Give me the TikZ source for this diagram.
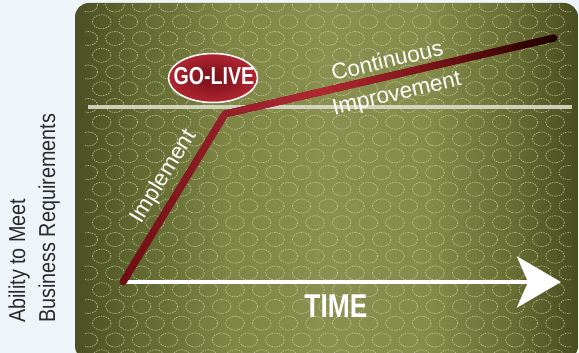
\documentclass[tikz,border=0pt]{standalone}
\usepackage{fontspec}
\setmainfont{Liberation Sans}
\newfontfamily\condfont[FakeStretch=0.86]{Liberation Sans}
\newfontfamily\heavycond[FakeStretch=0.8]{Liberation Sans}
\usetikzlibrary{shapes.geometric,arrows.meta,calc}

% palette
\definecolor{bgcol}{HTML}{EEF5F8}
\definecolor{olA}{HTML}{4A5022}
\definecolor{olB}{HTML}{626931}
\definecolor{olC}{HTML}{7E8545}
\definecolor{olD}{HTML}{8A904F}
\definecolor{olE}{HTML}{858B4A}
\definecolor{olF}{HTML}{6A7035}
\definecolor{olG}{HTML}{484D1F}
\definecolor{dotcol}{HTML}{CFD2A6}
\definecolor{guidecol}{HTML}{DADCC8}
\definecolor{redA}{HTML}{6E0F14}
\definecolor{redB}{HTML}{96202A}
\definecolor{redC}{HTML}{B22832}
\definecolor{redD}{HTML}{7A141A}
\definecolor{redE}{HTML}{440707}
\definecolor{redF}{HTML}{1E0000}
\definecolor{pillin}{HTML}{760E16}
\definecolor{pillout}{HTML}{B02632}
\definecolor{labelcol}{HTML}{2A2A2A}

% olive panel: colours run across the middle 50bp of the shading
\pgfdeclarehorizontalshading{panelshade}{100bp}{%
  color(0bp)=(olA); color(25bp)=(olA); color(31.5bp)=(olB);
  color(40bp)=(olC); color(50bp)=(olD); color(60bp)=(olE);
  color(68bp)=(olF); color(75bp)=(olG); color(100bp)=(olG)}

\tikzset{
  dotring/.style={draw=dotcol, draw opacity=0.8, line width=0.7pt,
                  dash pattern=on 1.4pt off 1.1pt},
  redline/.style={line width=7pt},
  slanttext/.style={text=white, font=\fontsize{22.5}{24}\selectfont, inner sep=0pt},
  axislabel/.style={text=labelcol, font=\condfont\fontsize{23}{26}\selectfont,
                    inner sep=0pt, rotate=90, anchor=base west},
}

% one stretch of the red trend line, blended from colour #3 to colour #4
\newcommand\redpiece[5]{%
  \foreach \i in {1,...,#5}{%
    \pgfmathsetmacro\ta{(\i-1)/#5}%
    \pgfmathsetmacro\tb{min(1,\i/#5+0.004)}%
    \pgfmathsetmacro\pc{100*(1-(\i-0.5)/#5)}%
    \colorlet{segcol}{#3!\pc!#4}%
    \draw[redline, line cap=butt, draw=segcol]
      ($(#1)!\ta!(#2)$) -- ($(#1)!\tb!(#2)$);
  }}

\begin{document}
\begin{tikzpicture}[x=1pt, y=-1pt]
  % page
  \fill[bgcol] (0,0) rectangle (579,353);
  \useasboundingbox (0,0) rectangle (579,353);

  % panel
  \shade[shading=panelshade, rounded corners=14pt] (75,3) rectangle (578,360);

  % dotted ring texture
  \begin{scope}
    \clip[rounded corners=14pt] (75,3) rectangle (578,360);
    \clip (85,3) rectangle (571,353);
    \foreach \k in {0,...,21}{
      \pgfmathsetmacro\yy{5+16.75*\k}
      \pgfmathsetmacro\xs{mod(\k,2)==1 ? 101.7 : 88.3}
      \foreach \i in {0,...,18}{
        \draw[dotring] (\xs+26.67*\i, \yy) ellipse [x radius=9.3, y radius=7];
      }
    }
  \end{scope}

  % key points
  \coordinate (origin) at (123,282);
  \coordinate (kink)   at (225,114);
  \coordinate (peak)   at (554,38);
  \coordinate (timeend) at (561,282);
  \coordinate (guideL) at (88,107);
  \coordinate (guideR) at (572,107);

  % go-live threshold
  \draw[guidecol, line width=4pt, opacity=0.9] (guideL) -- (guideR);

  % time axis
  \draw[white, line width=4.5pt, line cap=round,
        -{Stealth[length=44pt, width=51pt, inset=11pt]}] (origin) -- (timeend);

  % trend line
  \coordinate (r1) at ($(kink)!0.3!(peak)$);
  \coordinate (r2) at ($(kink)!0.62!(peak)$);
  \coordinate (r3) at ($(kink)!0.85!(peak)$);
  \draw[redline, redA, line cap=round, line join=round] (origin) -- (kink) -- (peak);
  \draw[redF, line width=7pt, line cap=round] ($(peak)!0.01!(kink)$) -- (peak);
  \redpiece{origin}{kink}{redA}{redB}{20}
  \redpiece{kink}{r1}{redB}{redC}{12}
  \redpiece{r1}{r2}{redC}{redD}{12}
  \redpiece{r2}{r3}{redD}{redE}{10}
  \redpiece{r3}{peak}{redE}{redF}{8}
  \fill[redB] (kink) circle (3.5pt);

  % go-live badge
  \node (golive) [ellipse, draw=white, line width=1.5pt, inner color=pillin,
        outer color=pillout, minimum width=89pt, minimum height=49pt, inner sep=0pt]
        at (213,78) {};
  \node (golivetext) [text=white, inner sep=0pt,
        font=\heavycond\bfseries\fontsize{24.5}{26}\selectfont] at (214,76) {GO-LIVE};

  % phase labels
  \node (implement) [slanttext, rotate=58.7] at (164,177) {Implement};
  \node (continuous) [slanttext, rotate=13.1] at (387,60) {Continuous};
  \node (improvement) [slanttext, rotate=13.1] at (397,95) {Improvement};

  % axis labels
  \node (timelabel) [text=white, inner sep=0pt,
        font=\heavycond\bfseries\fontsize{33}{35}\selectfont] at (336,306) {TIME};
  \node (abilityA) [axislabel] at (25,323) {Ability to Meet};
  \node (abilityB) [axislabel] at (55,323) {Business Requirements};
\end{tikzpicture}
\end{document}
